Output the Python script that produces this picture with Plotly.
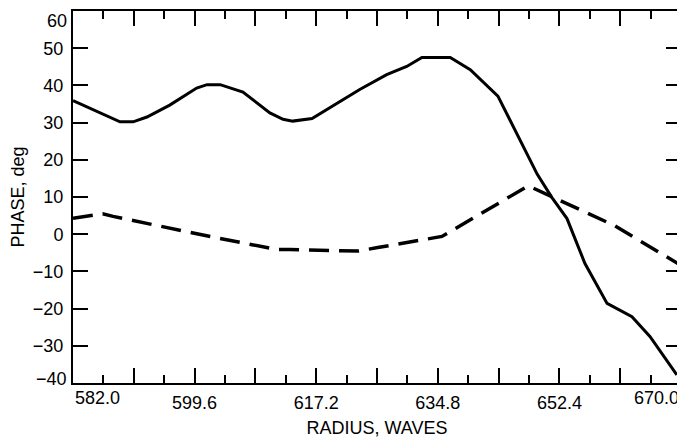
import plotly.graph_objects as go

# Solid curve (radius in waves, phase in deg)
solid_x = [582.0, 588.8, 590.7, 592.7, 596.0, 599.9, 601.4, 603.3, 606.6, 610.5,
           612.4, 613.8, 616.6, 620.6, 623.5, 627.4, 630.3, 632.5, 636.6, 639.5,
           643.5, 649.2, 651.3, 653.5, 656.1, 659.3, 662.9, 665.5, 669.4]
solid_y = [35.9, 30.2, 30.2, 31.5, 34.7, 39.3, 40.2, 40.2, 38.2, 32.6,
           30.9, 30.4, 31.1, 35.7, 38.9, 42.9, 45.1, 47.5, 47.5, 44.2,
           37.1, 16.1, 9.9, 4.2, -7.9, -18.6, -22.2, -27.5, -37.8]

# Dashed curve
dash_x = [582.0, 586.3, 587.8, 602.3, 611.5, 613.4, 619.6, 623.3, 626.1, 635.4,
          647.9, 660.4, 670.0]
dash_y = [4.3, 5.5, 4.8, -0.8, -4.1, -4.1, -4.4, -4.5, -3.6, -0.6,
          13.0, 2.3, -8.4]

x_major = [582.0, 590.8, 599.6, 608.4, 617.2, 626.0, 634.8, 643.6, 652.4, 661.2, 670.0]
x_text = ["", "", "599.6", "", "617.2", "", "634.8", "", "652.4", "", ""]
x_edge_labels = [(582.0, "582.0", "left"), (670.0, "670.0", "right")]
y_ticks = [-40, -30, -20, -10, 0, 10, 20, 30, 40, 50, 60]
y_text = ["", "\u221230", "\u221220", "\u221210", "0", "10", "20", "30", "40", "50", ""]
y_edge_labels = [(60, "60", "top", 2), (-40, "\u221240", "middle", 4)]

FONT = "Liberation Sans, Arial, Helvetica, sans-serif"

fig = go.Figure()
fig.add_trace(go.Scatter(x=solid_x, y=solid_y, mode="lines",
                         line=dict(color="black", width=3), showlegend=False))
fig.add_trace(go.Scatter(x=dash_x, y=dash_y, mode="lines",
                         line=dict(color="black", width=3.5, dash="20px,10px"),
                         showlegend=False))

for xv, txt, anc in x_edge_labels:
    fig.add_annotation(x=xv, y=0, xref="x", yref="paper", text=txt,
                       showarrow=False, xanchor=anc, yanchor="top", yshift=-3,
                       font=dict(size=18, color="black", family=FONT))
for yv, txt, anc, sh in y_edge_labels:
    fig.add_annotation(x=0, y=yv, xref="paper", yref="y", text=txt,
                       showarrow=False, xanchor="right", yanchor=anc, xshift=-4, yshift=sh,
                       font=dict(size=18, color="black", family=FONT))

fig.update_xaxes(range=[582.0, 670.0], tickmode="array", tickvals=x_major, ticktext=x_text,
                 ticks="inside", ticklen=15, tickwidth=2, tickcolor="black",
                 showline=True, linewidth=2, linecolor="black", mirror="ticks",
                 showgrid=False, zeroline=False, ticklabelstandoff=2, automargin=False,
                 ticklabeloverflow="allow",
                 minor=dict(dtick=4.4, tick0=582.0, ticks="inside", ticklen=8,
                            tickwidth=2, tickcolor="black", showgrid=False),
                 tickfont=dict(size=18, color="black", family=FONT),
                 title=dict(text="RADIUS, WAVES", standoff=10,
                            font=dict(size=18, color="black", family=FONT)))
fig.update_yaxes(range=[-40, 60], tickmode="array", tickvals=y_ticks, ticktext=y_text,
                 ticks="inside", ticklen=15, tickwidth=2, tickcolor="black",
                 showline=True, linewidth=2, linecolor="black", mirror="ticks",
                 showgrid=False, zeroline=False, ticklabelstandoff=4, automargin=False,
                 ticklabeloverflow="allow",
                 tickfont=dict(size=18, color="black", family=FONT),
                 title=dict(text="PHASE, deg", standoff=6,
                            font=dict(size=18, color="black", family=FONT)))

fig.update_layout(width=677, height=435, margin=dict(l=65, r=4, t=3, b=60),
                  plot_bgcolor="white", paper_bgcolor="white",
                  font=dict(family=FONT, color="black"))

fig.write_html("out.html")
